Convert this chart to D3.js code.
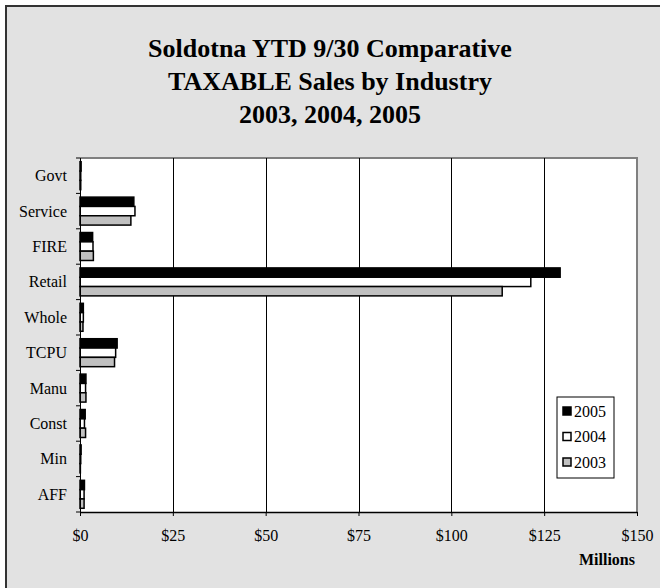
<!DOCTYPE html>
<html>
<head>
<meta charset="utf-8">
<title>Soldotna Taxable Sales</title>
<style type="text/css">
	body { margin: 0; background: #fff; }
	#chart { width: 660px; height: 588px; display: block; }
	.calText { font-family: "Liberation Serif", "Times New Roman", serif; fill: #000; }
	.title { font-size: 26px; font-weight: bold; text-anchor: middle; }
	.axis text { font-family: "Liberation Serif", "Times New Roman", serif; font-size: 16px; fill: #000; }
	.axis path, .axis line { stroke: #000; }
</style>
</head>
<body>
<svg id="chart"></svg>
<script src="https://cdn.jsdelivr.net/npm/d3@7/dist/d3.min.js"></script>
<script>

// industries, top to bottom
var categories = ['Govt', 'Service', 'FIRE', 'Retail', 'Whole', 'TCPU', 'Manu', 'Const', 'Min', 'AFF'];
var years = ['2005', '2004', '2003'];

// millions of dollars, YTD 9/30
var sales2005 = [0.3, 14.5, 3.4, 129.3, 0.9, 10.0, 1.6, 1.4, 0.3, 1.2];
var sales2004 = [0.2, 14.8, 3.5, 121.4, 0.9, 9.6, 1.5, 1.2, 0.2, 1.1];
var sales2003 = [0.2, 13.7, 3.6, 113.7, 0.8, 9.3, 1.6, 1.5, 0.1, 1.1];

var xTicks = [0, 25, 50, 75, 100, 125, 150];
var fills = {'2005': '#000000', '2004': '#ffffff', '2003': '#c0c0c0'};

var series = {'2005': sales2005, '2004': sales2004, '2003': sales2003};

var svg = d3.select('#chart');

var plotLeft = 80,
	plotRight = 637,
	plotTop = 158,
	plotBottom = 512;

// background + frame
svg.append('rect')
	.attr('x', 6).attr('y', 6)
	.attr('width', 660).attr('height', 588)
	.attr('fill', '#e2e2e2')
	.attr('stroke', '#333')
	.attr('stroke-width', 2);

var titleLines = ['Soldotna YTD 9/30 Comparative', 'TAXABLE Sales by Industry', '2003, 2004, 2005'];
svg.selectAll('.title')
	.data(titleLines)
	.enter()
	.append('text')
	.classed('calText', true)
	.classed('title', true)
	.attr('x', 330)
	.attr('y', function(d, i) { return 57 + i * 33; })
	.text(function(d) { return d; });

var x = d3.scaleLinear().domain([0, 150]).range([plotLeft, plotRight]);
var y = d3.scaleBand().domain(categories).range([plotTop, plotBottom]).paddingInner(0.21).paddingOuter(0.105);
var ySub = d3.scaleBand().domain(years).range([0, y.bandwidth()]);

// plot area
svg.append('rect')
	.attr('x', plotLeft).attr('y', plotTop)
	.attr('width', plotRight - plotLeft).attr('height', plotBottom - plotTop)
	.attr('fill', '#fff');

svg.append('path')
	.attr('d', 'M' + plotLeft + ',' + plotTop + 'H' + plotRight + 'V' + plotBottom)
	.attr('fill', 'none')
	.attr('stroke', '#808080')
	.attr('stroke-width', 2);

// gridlines
svg.selectAll('.grid')
	.data(xTicks.slice(1, -1))
	.enter()
	.append('line')
	.attr('x1', function(d) { return Math.round(x(d)) + 0.5; })
	.attr('x2', function(d) { return Math.round(x(d)) + 0.5; })
	.attr('y1', plotTop).attr('y2', plotBottom)
	.attr('stroke', '#000').attr('stroke-width', 1);

// bars
var groups = svg.selectAll('.industry')
	.data(categories)
	.enter()
	.append('g')
	.attr('transform', function(d) { return 'translate(0,' + y(d) + ')'; });

groups.selectAll('rect')
	.data(function(d, i) { return years.map(function(yr) { return {year: yr, value: series[yr][i]}; }); })
	.enter()
	.append('rect')
	.attr('x', x(0))
	.attr('y', function(d) { return ySub(d.year); })
	.attr('width', function(d) { return x(d.value) - x(0); })
	.attr('height', ySub.bandwidth())
	.attr('fill', function(d) { return fills[d.year]; })
	.attr('stroke', '#000')
	.attr('stroke-width', 1.5);

// axes
var boundaries = d3.range(categories.length + 1).map(function(i) { return plotTop + i * y.step(); });
svg.selectAll('.ytick')
	.data(boundaries)
	.enter()
	.append('line')
	.attr('x1', plotLeft - 4).attr('x2', plotLeft)
	.attr('y1', function(d) { return d; }).attr('y2', function(d) { return d; })
	.attr('stroke', '#000');

svg.append('line')
	.attr('x1', plotLeft + 0.5).attr('x2', plotLeft + 0.5)
	.attr('y1', plotTop).attr('y2', plotBottom)
	.attr('stroke', '#000');

svg.selectAll('.ylabel')
	.data(categories)
	.enter()
	.append('text')
	.classed('calText', true)
	.attr('x', 67)
	.attr('y', function(d) { return y(d) + y.bandwidth() / 2 + 5.5; })
	.attr('text-anchor', 'end')
	.style('font-size', '16px')
	.text(function(d) { return d; });

var xAxis = svg.append('g')
	.classed('axis', true)
	.attr('transform', 'translate(0,' + plotBottom + ')')
	.call(d3.axisBottom(x).tickValues(xTicks).tickSize(4).tickSizeOuter(0).tickPadding(14)
		.tickFormat(function(d) { return '$' + d; }));
xAxis.select('.domain').attr('stroke-width', 1.5);

svg.append('text')
	.classed('calText', true)
	.attr('x', 607).attr('y', 565)
	.attr('text-anchor', 'middle')
	.style('font-size', '16px')
	.style('font-weight', 'bold')
	.text('Millions');

// legend
var legend = svg.append('g').attr('transform', 'translate(557,397)');
legend.append('rect')
	.attr('width', 57).attr('height', 81)
	.attr('fill', '#fff').attr('stroke', '#000');

var entries = legend.selectAll('.entry')
	.data(years)
	.enter()
	.append('g')
	.attr('transform', function(d, i) { return 'translate(6,' + (14 + i * 25.5) + ')'; });

entries.append('rect')
	.attr('x', 0).attr('y', -4)
	.attr('width', 8).attr('height', 8)
	.attr('fill', function(d) { return fills[d]; })
	.attr('stroke', '#000').attr('stroke-width', 1.5);

entries.append('text')
	.classed('calText', true)
	.attr('x', 11).attr('y', 5.5)
	.style('font-size', '16px')
	.text(function(d) { return d; });

</script>
</body>
</html>
